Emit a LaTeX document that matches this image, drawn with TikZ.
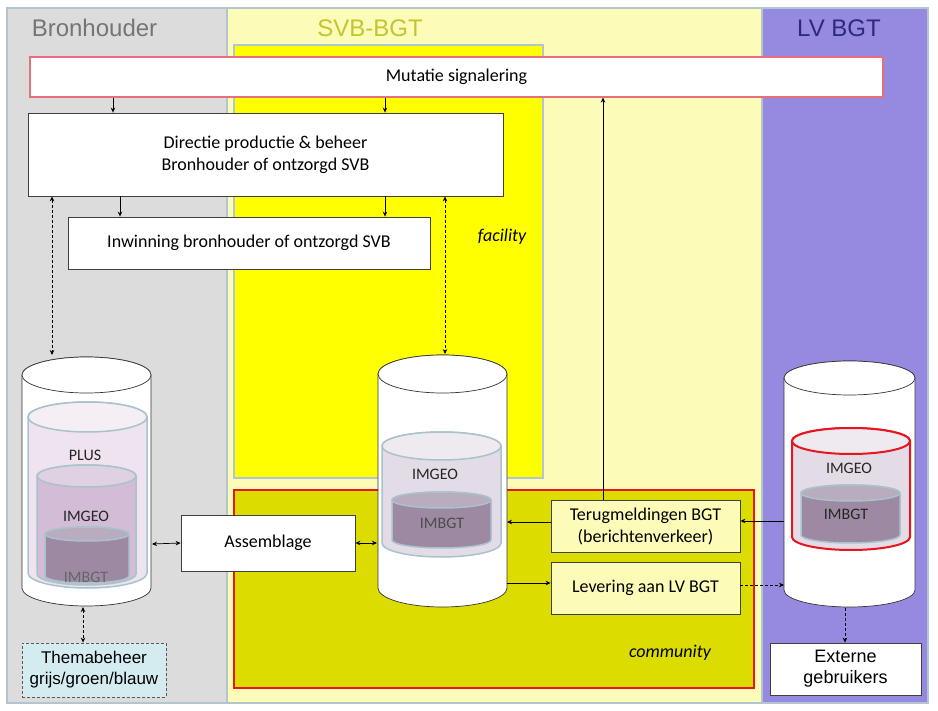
\documentclass[tikz,border=0pt]{standalone}
\usepackage{fontspec}
\setmainfont{Carlito}
\newfontfamily\arialfont{Liberation Sans}
\usetikzlibrary{arrows.meta,calc}

\definecolor{randgrijs}{HTML}{B3C6CF}
\definecolor{bronfill}{HTML}{DCDCDC}
\definecolor{svbfill}{HTML}{FCFCB8}
\definecolor{facfill}{HTML}{FFFF00}
\definecolor{comfill}{HTML}{DCDC00}
\definecolor{lvfill}{HTML}{968AE0}
\definecolor{bronkop}{HTML}{757575}
\definecolor{svbkop}{HTML}{C4C430}
\definecolor{lvkop}{HTML}{2D2A7A}
\definecolor{mutrand}{HTML}{E5707A}
\definecolor{rood}{HTML}{E8141E}
\definecolor{themafill}{HTML}{D4ECF0}
\definecolor{cilrand}{HTML}{A8C3CB}
\definecolor{plusfill}{HTML}{EEE3EF}
\definecolor{imgeofill}{HTML}{D3BDD6}
\definecolor{imgeolicht}{HTML}{E3DCE6}
\definecolor{imbgtfill}{HTML}{9E89A3}
\definecolor{imbgttop}{HTML}{B8ACBE}

\tikzset{
  paneel/.style={draw=randgrijs, line width=2.5pt},
  blok/.style={draw=black!75, fill=white, line width=0.8pt, align=center,
    inner sep=0pt, font=\fontsize{18}{22}\selectfont},
  kop/.style={font=\arialfont\fontsize{24}{28}\selectfont},
  laag/.style={font=\fontsize{16}{18}\selectfont, text=black!85},
  pijl/.style={->, line width=0.7pt},
  tweepijl/.style={<->, line width=0.7pt},
  stippel/.style={dash pattern=on 3pt off 2pt},
}

\begin{document}
\begin{tikzpicture}[x=1pt, y=-1pt, >={Stealth[length=5pt,width=4.5pt]}]
  % achtergrond
  \fill[white] (0,0) rectangle (938,711);
  \useasboundingbox (0,0) rectangle (938,711);

  % cilinder: x, halve breedte, y boven, y onder, ry, stijl romp, stijl deksel
  \def\cil#1#2#3#4#5#6#7{%
    \path[#6] (#1-#2,#3) -- (#1-#2,#4)
      arc[start angle=180, end angle=0, x radius=#2, y radius=#5]
      -- (#1+#2,#3)
      arc[start angle=0, end angle=-180, x radius=#2, y radius=#5] -- cycle;
    \path[#7] (#1,#3) ellipse[x radius=#2, y radius=#5];}

  % kolommen
  \fill[bronfill] (7,8) rectangle (227,703);
  \fill[svbfill] (227,8) rectangle (762,703);
  \fill[lvfill] (762,8) rectangle (928,703);
  \draw[paneel] (7,8) rectangle (928,703);
  \draw[paneel] (227,8) -- (227,703);
  \draw[paneel] (762,8) -- (762,703);

  \node[kop, text=bronkop] (kbron) at (94.5,28) {Bronhouder};
  \node[kop, text=svbkop] (ksvb) at (370,28) {SVB-BGT};
  \node[kop, text=lvkop] (klv) at (839,28) {LV BGT};

  % facility en community
  \draw[draw=randgrijs, line width=2pt, fill=facfill] (234,45) rectangle (543,478);
  \draw[draw=rood, line width=2.5pt, fill=comfill] (234,490) rectangle (754,688);
  \node[font=\itshape\fontsize{18}{22}\selectfont] (lfac) at (502,237) {facility};
  \node[font=\itshape\fontsize{18}{22}\selectfont] (lcom) at (670,653) {community};

  % database bronhouder
  \cil{86.5}{64.5}{375}{588}{18}{draw=black!80, fill=white, line width=0.7pt}{draw=black!80, fill=white, line width=0.7pt}
  \cil{87.5}{59.5}{417}{573}{15}{draw=cilrand, fill=plusfill, line width=1.5pt}{draw=cilrand, fill=plusfill!60!white, line width=1.5pt}
  \cil{86.5}{49.5}{476}{574}{11}{draw=cilrand, fill=imgeofill, line width=1.5pt}{draw=cilrand, fill=imgeofill!70!white, line width=1.5pt}
  \cil{87}{42}{534}{576}{7}{draw=cilrand, fill=imbgtfill, line width=1.5pt}{draw=cilrand, fill=imbgttop, line width=1.5pt}
  \node[laag] (plus) at (85,455) {PLUS};
  \node[laag] (geo1) at (86,516) {IMGEO};
  \node[laag, text=black!60] (bgt1) at (86,577) {IMBGT};

  % database SVB-BGT
  \cil{442.5}{64.5}{374}{588}{19}{draw=black!80, fill=white, line width=0.7pt}{draw=black!80, fill=white, line width=0.7pt}
  \cil{441.5}{59.5}{446}{543}{14}{draw=cilrand, fill=imgeolicht, line width=1.5pt}{draw=cilrand, fill=imgeolicht!60!white, line width=1.5pt}
  \cil{441.5}{49.5}{500}{540}{8}{draw=cilrand, fill=imbgtfill, line width=1.5pt}{draw=cilrand, fill=imbgttop, line width=1.5pt}
  \node[laag] (geo2) at (435,474) {IMGEO};
  \node[laag, text=black!70] (bgt2) at (442,523) {IMBGT};

  % database LV BGT
  \cil{849.5}{65.5}{378}{590}{17}{draw=black!80, fill=white, line width=0.7pt}{draw=black!80, fill=white, line width=0.7pt}
  \cil{851}{59}{441}{537}{13}{draw=rood, fill=imgeolicht, line width=2pt}{draw=rood, fill=imgeolicht!60!white, line width=2pt}
  \cil{850.5}{49.5}{493}{535}{8}{draw=cilrand, fill=imbgtfill, line width=1.5pt}{draw=cilrand, fill=imbgttop, line width=1.5pt}
  \node[laag] (geo3) at (849,468) {IMGEO};
  \node[laag] (bgt3) at (846,514) {IMBGT};

  % aansluitpunten databases
  \coordinate (bhdb-n) at (52,355);
  \coordinate (bhdb-s) at (83,607);
  \coordinate (bhdb-e) at (152,544);
  \coordinate (svbdb-n) at (445,354);
  \coordinate (svbdb-w) at (377,544);
  \coordinate (svbdb-e) at (507,550);
  \coordinate (lvdb-w) at (784,550);
  \coordinate (lvdb-s) at (845,608);

  % blokken
  \node[blok, draw=mutrand, line width=1.2pt, minimum width=853pt, minimum height=40pt] (mut) at (456.5,77) {Mutatie signalering};
  \node[blok, minimum width=475pt, minimum height=83pt] (dir) at (265.5,154.5) {Directie productie \& beheer\\Bronhouder of ontzorgd SVB};
  \node[blok, minimum width=362pt, minimum height=52pt] (inw) at (249,243) {Inwinning bronhouder of ontzorgd SVB};
  \node[blok, minimum width=174pt, minimum height=56pt] (assem) at (268,543) {Assemblage};
  \node[blok, fill=svbfill, minimum width=189pt, minimum height=52pt] (terug) at (645.5,526) {Terugmeldingen BGT\\(berichtenverkeer)};
  \node[blok, fill=svbfill, minimum width=189pt, minimum height=52pt] (lever) at (645.5,588) {Levering aan LV BGT};
  \node[blok, font=\arialfont\fontsize{17}{21}\selectfont, fill=themafill, draw=black!65, stippel, minimum width=144pt, minimum height=54pt] (thema) at (94,670) {Themabeheer\\grijs/groen/blauw};
  \node[blok, font=\arialfont\fontsize{18}{21}\selectfont, minimum width=151pt, minimum height=52pt] (extern) at (845.5,669) {Externe\\gebruikers};

  % pijlen
  \draw[pijl] (113,0 |- mut.south) -- (113,0 |- dir.north);
  \draw[pijl] (385,0 |- mut.south) -- (385,0 |- dir.north);
  \draw[pijl] (120,0 |- dir.south) -- (120,0 |- inw.north);
  \draw[pijl] (385,0 |- dir.south) -- (385,0 |- inw.north);
  \draw[tweepijl, stippel] (dir.south -| bhdb-n) -- (bhdb-n);
  \draw[tweepijl, stippel] (dir.south -| svbdb-n) -- (svbdb-n);
  \draw[pijl] (603,0 |- terug.north) -- (603,0 |- mut.south);
  \draw[tweepijl] (bhdb-e) -- (assem.west);
  \draw[tweepijl] (assem.east) -- (assem.east -| svbdb-w);
  \draw[pijl] ([yshift=4pt]terug.west) -- ([yshift=4pt]terug.west -| svbdb-e);
  \draw[pijl] ([yshift=5pt]svbdb-e |- lever.west) -- ([yshift=5pt]lever.west);
  \draw[pijl, stippel] ([yshift=3pt]lever.east) -- ([yshift=3pt]lever.east -| lvdb-w);
  \draw[pijl] ([yshift=5pt]lvdb-w |- terug.east) -- ([yshift=5pt]terug.east);
  \draw[pijl, stippel] (lvdb-s) -- (lvdb-s |- extern.north);
  \draw[tweepijl, stippel] (bhdb-s) -- (bhdb-s |- thema.north);
\end{tikzpicture}
\end{document}
